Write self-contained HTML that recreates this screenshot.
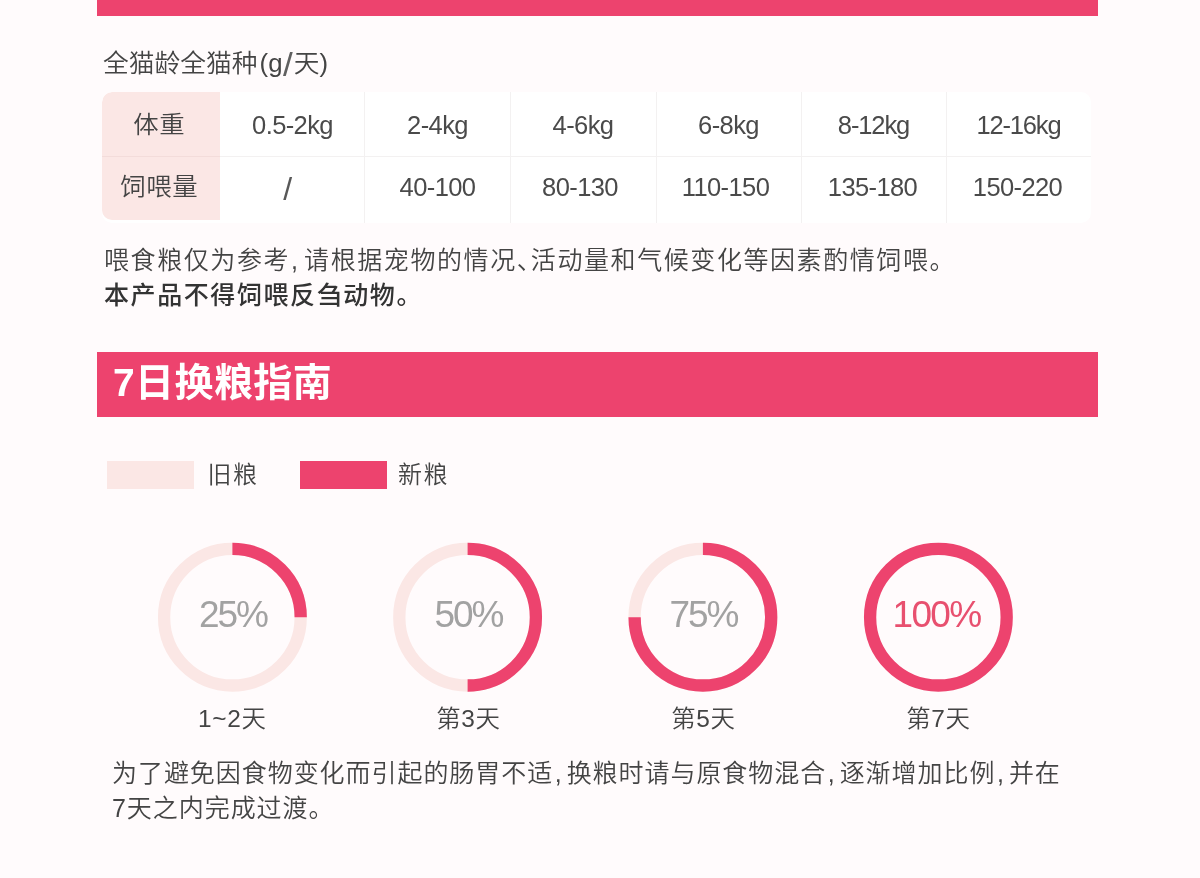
<!DOCTYPE html>
<html lang="zh-CN">
<head>
<meta charset="utf-8">
<title>喂食指南</title>
<style>
html,body{margin:0;padding:0;}
body{width:1200px;height:878px;position:relative;overflow:hidden;background:#fffbfc;
  font-family:"Liberation Sans","Noto Sans CJK SC",sans-serif;color:#444;font-weight:350;
  font-feature-settings:"halt";}
.abs{position:absolute;white-space:nowrap;}
.bar{position:absolute;left:97px;width:1001px;background:#ed436e;}
.t{position:absolute;white-space:nowrap;line-height:36px;height:36px;font-size:25px;}
.cm1{margin:0 4.5px 0 1px;}
.cm2{margin:0 4px 0 1.6px;}
.sl{font-size:34px;line-height:0;position:relative;top:4px;color:#606060;margin:0 1px 0 0.5px;}
/* table */
.tbl{position:absolute;left:102px;top:92px;width:989px;height:130.5px;background:#fff;border-radius:10px;overflow:hidden;}
.tbl .hd{position:absolute;left:0;top:0;width:118px;height:128px;background:#fbe7e5;border-radius:10px 0 0 10px;}
.tbl .vl{position:absolute;top:0;width:1px;height:131px;background:#f3f1f1;}
.tbl .hl{position:absolute;left:0;top:64px;width:989px;height:1px;background:#f3f1f1;}
.tbl .hl2{position:absolute;left:0;top:64px;width:118px;height:1px;background:#f3dcda;}
.c{position:absolute;text-align:center;white-space:nowrap;font-size:25.5px;letter-spacing:-0.6px;line-height:36px;height:36px;color:#4a4a4a;}
.k{font-size:24px;letter-spacing:0.55px;text-indent:0.55px;color:#444;transform:scaleX(1.06);transform-origin:50% 50%;}
.r1{top:15px;}
.r2{top:77px;}
/* legend */
.sw{position:absolute;top:461px;width:87px;height:28px;}
/* circles */
.pct{position:absolute;width:160px;text-align:center;font-size:37px;letter-spacing:-2px;line-height:40px;color:#a2a2a2;top:595px;font-weight:400;}
.lab{position:absolute;width:160px;text-align:center;font-size:23.5px;letter-spacing:0.6px;text-indent:0.6px;line-height:30px;top:704px;transform:scaleX(1.04);transform-origin:50% 50%;}
</style>
</head>
<body>
<div class="bar" style="top:0;height:16px;"></div>
<div class="t" style="left:103px;top:45px;letter-spacing:0px;transform:scaleX(1.03);transform-origin:0 50%;">全猫龄全猫种<span style="margin-left:2px">(</span>g<span class="sl">/</span>天)</div>

<div class="tbl">
  <div class="hd"></div>
  <div class="hl"></div><div class="hl2"></div>
  <div class="vl" style="left:262px"></div>
  <div class="vl" style="left:408px"></div>
  <div class="vl" style="left:554px"></div>
  <div class="vl" style="left:699px"></div>
  <div class="vl" style="left:844px"></div>
  <div class="c k r1" style="left:-2px;width:118px;">体重</div>
  <div class="c k r2" style="left:-2px;width:118px;">饲喂量</div>
  <div class="c r1" style="left:118px;width:145px;">0.5-2kg</div>
  <div class="c r2" style="left:113px;width:145px;font-size:32px;top:79px;color:#585858;">/</div>
  <div class="c r1" style="left:263px;width:145px;">2-4kg</div>
  <div class="c r2" style="left:263px;width:145px;">40-100</div>
  <div class="c r1" style="left:408px;width:146px;">4-6kg</div>
  <div class="c r2" style="left:405px;width:146px;">80-130</div>
  <div class="c r1" style="left:554px;width:145px;">6-8kg</div>
  <div class="c r2" style="left:551px;width:145px;">110-150</div>
  <div class="c r1" style="left:699px;width:145px;letter-spacing:-1.1px;">8-12kg</div>
  <div class="c r2" style="left:698px;width:145px;">135-180</div>
  <div class="c r1" style="left:844px;width:145px;letter-spacing:-1.2px;">12-16kg</div>
  <div class="c r2" style="left:843px;width:145px;">150-220</div>
</div>

<div class="t" style="left:104px;top:242px;letter-spacing:1.58px;">喂食粮仅为参考<span class="cm1">,</span>请根据宠物的情况、活动量和气候变化等因素酌情饲喂。</div>
<div class="t" style="left:104px;top:277px;letter-spacing:1.58px;font-weight:500;color:#333;">本产品不得饲喂反刍动物。</div>

<div class="bar" style="top:352px;height:65px;"></div>
<div class="abs" style="left:113px;top:357px;font-size:39px;line-height:52px;font-weight:700;color:#fff;letter-spacing:0.4px;">7日换粮指南</div>

<div class="sw" style="left:107px;background:#fbe7e5;"></div>
<div class="t" style="left:207.5px;top:457px;font-size:24px;letter-spacing:1.5px;">旧粮</div>
<div class="sw" style="left:300px;background:#ed436e;"></div>
<div class="t" style="left:398px;top:457px;font-size:24px;letter-spacing:1.5px;">新粮</div>

<svg class="abs" style="left:0;top:530px;" width="1200" height="175" viewBox="0 530 1200 175">
  <g fill="none" stroke-width="12.3">
    <circle cx="232.4" cy="617.2" r="68.3" stroke="#fbe7e5"/>
    <path d="M232.4 548.9 A68.3 68.3 0 0 1 300.7 617.2" stroke="#ed436e"/>
    <circle cx="467.6" cy="617.2" r="68.3" stroke="#fbe7e5"/>
    <path d="M467.6 548.9 A68.3 68.3 0 0 1 467.6 685.5" stroke="#ed436e"/>
    <circle cx="702.9" cy="617.2" r="68.3" stroke="#fbe7e5"/>
    <path d="M702.9 548.9 A68.3 68.3 0 1 1 634.6 617.2" stroke="#ed436e"/>
    <circle cx="938.4" cy="617.2" r="68.3" stroke="#ed436e"/>
  </g>
</svg>
<div class="pct" style="left:153px;">25%</div>
<div class="pct" style="left:388.5px;">50%</div>
<div class="pct" style="left:623.5px;">75%</div>
<div class="pct" style="left:856.5px;color:#e8506f;letter-spacing:-1.7px;">100%</div>

<div class="lab" style="left:152px;">1~2天</div>
<div class="lab" style="left:388px;">第3天</div>
<div class="lab" style="left:623px;">第5天</div>
<div class="lab" style="left:858px;">第7天</div>

<div class="t" style="left:112px;top:755px;letter-spacing:0.95px;">为了避免因食物变化而引起的肠胃不适<span class="cm2">,</span>换粮时请与原食物混合<span class="cm2">,</span>逐渐增加比例<span class="cm2">,</span>并在</div>
<div class="t" style="left:112px;top:790px;letter-spacing:0.95px;">7天之内完成过渡。</div>
</body>
</html>
